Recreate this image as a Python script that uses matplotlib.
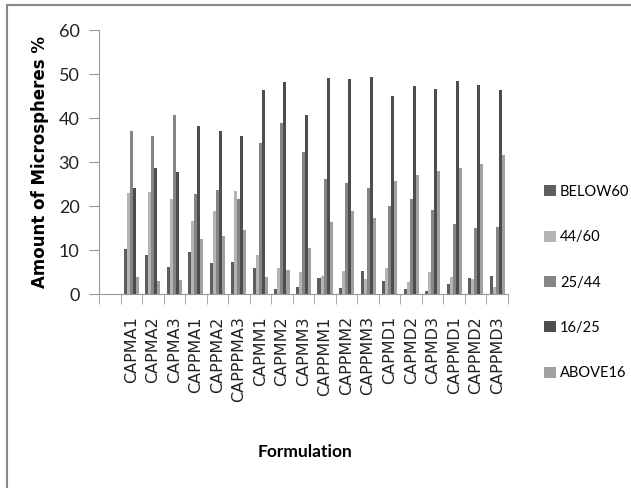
import matplotlib
matplotlib.use("Agg")
import matplotlib.pyplot as plt
import numpy as np
from matplotlib.lines import Line2D
from matplotlib import font_manager

categories = ["CAPMA1", "CAPMA2", "CAPMA3", "CAPPMA1", "CAPPMA2", "CAPPPMA3",
              "CAPMM1", "CAPMM2", "CAPMM3", "CAPPMM1", "CAPPMM2", "CAPPMM3",
              "CAPMD1", "CAPMD2", "CAPMD3", "CAPPMD1", "CAPPMD2", "CAPPMD3"]
below60 = [10.2, 8.9, 6.2, 9.6, 7.0, 7.3, 5.8, 1.1, 1.7, 3.7, 1.4, 5.2, 3.0, 1.1, 0.7, 2.2, 3.7, 4.2]
s44_60 = [22.9, 23.1, 21.6, 16.5, 18.8, 23.3, 8.9, 6.0, 5.0, 4.2, 5.2, 3.4, 6.0, 2.7, 5.0, 3.9, 3.5, 1.7]
s25_44 = [37.1, 35.9, 40.7, 22.7, 23.6, 21.6, 34.3, 38.9, 32.3, 26.1, 25.2, 24.1, 20.1, 21.6, 19.0, 15.9, 14.9, 15.2]
s16_25 = [24.1, 28.7, 27.7, 38.2, 37.1, 35.9, 46.3, 48.1, 40.7, 49.1, 48.8, 49.3, 45.0, 47.3, 46.6, 48.3, 47.6, 46.3]
above16 = [3.9, 3.0, 3.2, 12.4, 13.2, 14.5, 3.9, 5.5, 10.4, 16.3, 18.8, 17.2, 25.6, 27.0, 28.0, 28.7, 29.5, 31.7]
series_names = ["BELOW60", "44/60", "25/44", "16/25", "ABOVE16"]
series = [below60, s44_60, s25_44, s16_25, above16]
colors = ["#5e5e5e", "#b4b4b4", "#858585", "#4d4d4d", "#a0a0a0"]
yticks = [0, 10, 20, 30, 40, 50, 60]

avail = {f.name for f in font_manager.fontManager.ttflist}
narrow = "DejaVu Sans"
for cand in ["Liberation Sans Narrow", "Lato", "Roboto"]:
    if cand in avail:
        narrow = cand
        break

fig = plt.figure(figsize=(6.31, 4.88), dpi=100)
ax = fig.add_axes([99 / 631, 0.3975, (508 - 99) / 631, 0.5410])

x = np.arange(len(categories))
n = len(series)
total = 0.70
w = total / n
for i, (vals, c, name) in enumerate(zip(series, colors, series_names)):
    ax.bar(x - total / 2 + w * (i + 0.5), vals, width=w, color=c, label=name, linewidth=0)

# first category slot is empty in the original chart
ax.set_xlim(-1.5, len(categories) - 0.5)
ax.set_ylim(0, 60)
ax.set_yticks(yticks)
ax.set_yticklabels([str(v) for v in yticks], fontsize=13, family=narrow, color="#222222")
ax.set_xticks(x)
ax.set_xticklabels(categories, rotation=90, fontsize=11.5, family="DejaVu Sans", color="#222222")
ax.tick_params(axis="x", length=0, pad=16)
ax.set_xticks(np.arange(-1, len(categories) + 1) - 0.5, minor=True)
ax.tick_params(axis="x", which="minor", length=7, color="#999999", direction="out")
ax.tick_params(axis="y", length=7, color="#999999", pad=7)

for s in ["top", "right"]:
    ax.spines[s].set_visible(False)
ax.spines["left"].set_color("#999999")
ax.spines["bottom"].set_color("#999999")

ax.set_ylabel("Amount of Microspheres %", fontsize=12, fontweight="bold", family="DejaVu Sans", labelpad=7)
fig.text(0.483, 0.073, "Formulation", ha="center", va="center", fontsize=12.5, fontweight="bold",
         family=narrow)

leg = fig.legend(loc="center left", bbox_to_anchor=(0.862, 0.421), frameon=False, borderpad=0,
                 borderaxespad=0, handlelength=0.8, handleheight=0.8, handletextpad=0.3,
                 labelspacing=2.15, prop={"family": narrow, "size": 10.5})

fig.add_artist(Line2D([0.011, 1.0], [0.990, 0.990], transform=fig.transFigure, color="#888888", lw=1.5))
fig.add_artist(Line2D([0.011, 0.011], [0.0, 0.990], transform=fig.transFigure, color="#888888", lw=1.5))

fig.savefig("out.png", dpi=100)
